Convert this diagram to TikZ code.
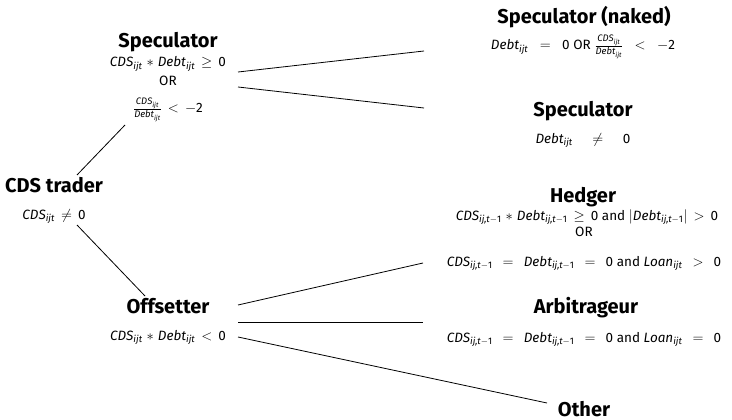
\documentclass[tikz,border=0pt]{standalone}
\usepackage{amsmath}
\usepackage{fontspec}
\setmainfont{Fira Sans}
\newcommand{\vr}[2]{\textit{#1}$_{\textit{#2}}$}
\newcommand{\vt}[1]{\textit{#1}$_{\textit{ij,t}-\text{1}}$}
\newcommand{\rel}[1]{\hspace{0.45em}$#1$\hspace{0.45em}}
\newcommand{\relw}[1]{\hspace{0.75em}$#1$\hspace{0.75em}}
\newcommand{\bop}[1]{\hspace{0.3em}$#1$\hspace{0.3em}}
\newcommand{\cdsfrac}{$\frac{\textit{CDS}_{\textit{ijt}}}{\textit{Debt}_{\textit{ijt}}}$}
\begin{document}
\begin{tikzpicture}[x=1pt,y=-1pt,
  ttl/.style={anchor=base,inner sep=0pt,font=\fontsize{20}{23}\selectfont\bfseries},
  frm/.style={anchor=base,inner sep=0pt,font=\fontsize{13.5}{16}\selectfont},
  edge/.style={draw=black,line width=0.8pt}]
\useasboundingbox (0,0) rectangle (732,420);
% left column
\node[ttl] (specT) at (168,48) {Speculator};
\node[frm] (specF1) at (168,67) {\vr{CDS}{ijt}\bop{\ast}\vr{Debt}{ijt}\rel{\geq}0};
\node[frm] (specOR) at (168,86) {OR};
\node[frm] (specF3) at (168,113) {\cdsfrac\rel{<}$-$2};
\node[ttl] (cdsT) at (54,192) {CDS trader};
\node[frm] (cdsF) at (54,219) {\vr{CDS}{ijt}\rel{\neq}0};
\node[ttl] (offT) at (168,313) {Offsetter};
\node[frm] (offF) at (168,340) {\vr{CDS}{ijt}\bop{\ast}\vr{Debt}{ijt}\rel{<}0};
% right column
\node[ttl] (nakT) at (584,24) {Speculator (naked)};
\node[frm] (nakF) at (583,50) {\vr{Debt}{ijt}\hspace{0.85em}$=$\hspace{0.85em}0 OR \cdsfrac\hspace{0.85em}$<$\hspace{0.85em}$-$2};
\node[ttl] (spcT) at (583,117) {Speculator};
\node[frm] (spcF) at (583,143) {\vr{Debt}{ijt}\rel{\quad\neq\quad}0};
\node[ttl] (hedT) at (583,202) {Hedger};
\node[frm] (hedF1) at (587,220) {\vt{CDS}\bop{\ast}\vt{Debt}\rel{\geq}0 and $|$\vt{Debt}$|$\rel{>}0};
\node[frm] (hedOR) at (584,236) {OR};
\node[frm] (hedF2) at (584,266) {\vt{CDS}\relw{=}\vt{Debt}\relw{=}0 and \vr{Loan}{ijt}\relw{>}0};
\node[ttl] (arbT) at (586,313) {Arbitrageur};
\node[frm] (arbF) at (584,342) {\vt{CDS}\relw{=}\vt{Debt}\relw{=}0 and \vr{Loan}{ijt}\relw{=}0};
\node[ttl] (othT) at (584,416) {Other};
% connector end points
\coordinate (cA) at (77,175);  \coordinate (sA) at (125,125);
\coordinate (cB) at (77,225);  \coordinate (oA) at (145,296);
\coordinate (s1) at (238,72);  \coordinate (n1) at (424,51);
\coordinate (s2) at (238,87);  \coordinate (p1) at (424,108);
\coordinate (o1) at (238,305); \coordinate (h1) at (423,263);
\coordinate (o2) at (238,322); \coordinate (a1) at (423,322);
\coordinate (o3) at (238,337); \coordinate (t1) at (547,403);
\draw[edge] (cA) -- (sA);
\draw[edge] (cB) -- (oA);
\draw[edge] (s1) -- (n1);
\draw[edge] (s2) -- (p1);
\draw[edge] (o1) -- (h1);
\draw[edge] (o2) -- (a1);
\draw[edge] (o3) -- (t1);
\end{tikzpicture}
\end{document}
